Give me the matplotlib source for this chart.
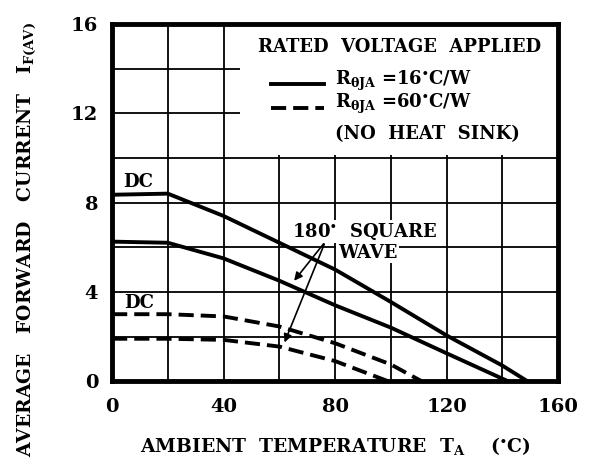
import matplotlib.pyplot as plt
from matplotlib.patches import Rectangle

plt.rcParams['font.family'] = ['DejaVu Serif']
plt.rcParams['font.weight'] = 'bold'
plt.rcParams['axes.labelweight'] = 'bold'
plt.rcParams['mathtext.fontset'] = 'dejavuserif'

# solid curves, R_thetaJA = 16 C/W
dc16_t = [0, 20, 40, 60, 80, 100, 120, 140, 149]
dc16_i = [8.35, 8.4, 7.4, 6.2, 5.0, 3.55, 2.05, 0.7, 0.0]
sq16_t = [0, 20, 40, 60, 80, 100, 120, 142]
sq16_i = [6.25, 6.2, 5.5, 4.5, 3.4, 2.4, 1.25, 0.0]

# dashed curves, R_thetaJA = 60 C/W (no heat sink)
dc60_t = [0, 20, 40, 60, 80, 100, 111]
dc60_i = [3.0, 3.0, 2.9, 2.45, 1.7, 0.75, 0.0]
sq60_t = [0, 20, 40, 60, 80, 99]
sq60_i = [1.9, 1.9, 1.85, 1.55, 0.9, 0.0]

xticks = [0, 40, 80, 120, 160]
yticks = [0, 4, 8, 12, 16]

fig = plt.figure(figsize=(5.93, 4.70), dpi=100)
ax = fig.add_axes([0.189, 0.189, 0.752, 0.760])

ax.set_xlim(0, 160)
ax.set_ylim(0, 16)
ax.set_xticks(xticks)
ax.set_yticks(yticks)
ax.set_xticks(range(0, 161, 20), minor=True)
ax.set_yticks(range(0, 17, 2), minor=True)
ax.tick_params(which='both', length=0, labelsize=14)
ax.tick_params(axis='x', pad=12)
ax.tick_params(axis='y', pad=10)
ax.grid(which='both', color='black', lw=1.3, zorder=0)
ax.set_axisbelow(True)
for s in ax.spines.values():
    s.set_linewidth(3.5)

# white block behind the legend text
ax.add_patch(Rectangle((46, 10.15), 114, 5.85, facecolor='white',
                       edgecolor='none', zorder=1))

lw = 2.8
dash = (0, (3.9, 1.8))
ax.plot(dc16_t, dc16_i, color='black', lw=lw, zorder=3)
ax.plot(sq16_t, sq16_i, color='black', lw=lw, zorder=3)
ax.plot(dc60_t, dc60_i, color='black', lw=lw, ls=dash, zorder=3)
ax.plot(sq60_t, sq60_i, color='black', lw=lw, ls=dash, zorder=3)

ax.text(4, 8.9, 'DC', fontsize=13, va='center', zorder=4)
ax.text(4.3, 3.5, 'DC', fontsize=13, va='center', zorder=4)

deg = r'$^{\bullet}$'
box = dict(facecolor='white', edgecolor='none', pad=1)
ax.text(64.5, 6.7, '180' + deg + '  SQUARE', fontsize=13, va='center', bbox=box, zorder=4)
ax.text(81, 5.75, 'WAVE', fontsize=13, va='center', bbox=box, zorder=4)
ax.annotate('', xy=(64.7, 4.4), xytext=(76.5, 6.25),
            arrowprops=dict(arrowstyle='-|>', color='black', lw=1.2, mutation_scale=12), zorder=5)
ax.annotate('', xy=(61.5, 1.62), xytext=(76.5, 6.25),
            arrowprops=dict(arrowstyle='-|>', color='black', lw=1.2, mutation_scale=12), zorder=5)

# legend
ax.text(103, 14.95, 'RATED  VOLTAGE  APPLIED', fontsize=13, ha='center', va='center', zorder=4)
ax.plot([57, 76], [13.3, 13.3], color='black', lw=lw, zorder=4)
ax.plot([57, 76], [12.25, 12.25], color='black', lw=lw, ls=dash, zorder=4)
ax.text(80, 13.45, r'R$_{\mathbf{\theta JA}}$ =16' + deg + 'C/W', fontsize=13, va='center', zorder=4)
ax.text(80, 12.4, r'R$_{\mathbf{\theta JA}}$ =60' + deg + 'C/W', fontsize=13, va='center', zorder=4)
ax.text(80, 11.05, '(NO  HEAT  SINK)', fontsize=13, va='center', zorder=4)

ax.set_xlabel(r'AMBIENT  TEMPERATURE  T$_{\mathbf{A}}$    (' + deg + 'C)',
              fontsize=13.5, fontweight='bold', labelpad=14)
fig.text(0.045, 0.49, r'AVERAGE   FORWARD   CURRENT   I$_{\mathbf{F(AV)}}$',
         fontsize=13.5, fontweight='bold', rotation=90, ha='center', va='center')

fig.savefig('out.png', dpi=100)
